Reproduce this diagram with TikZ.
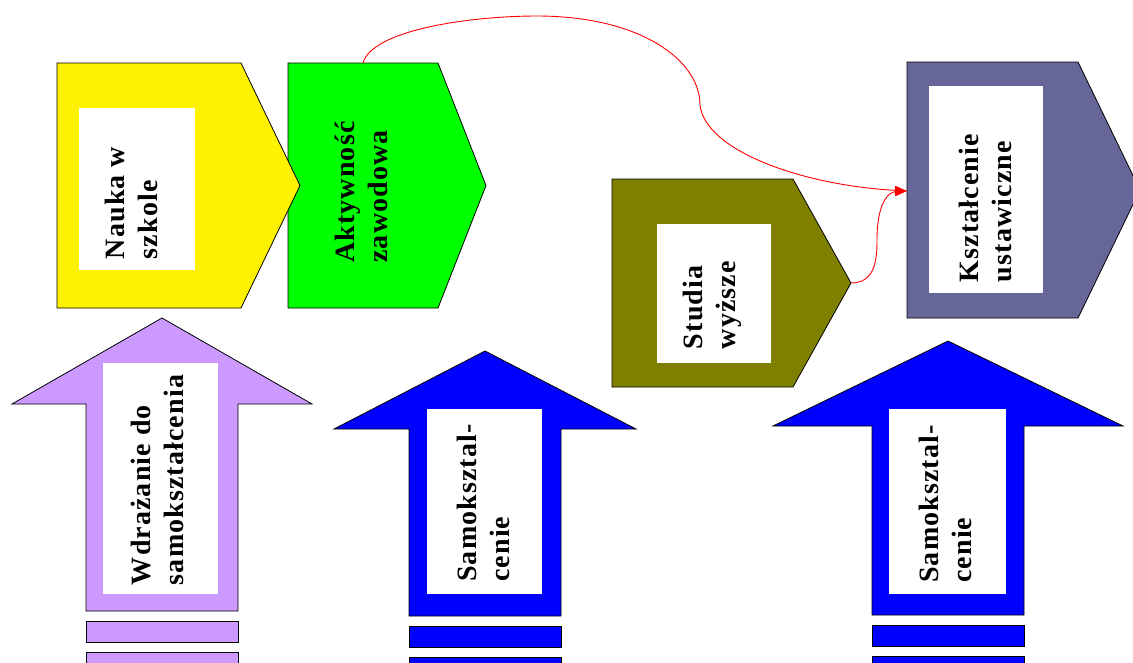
\documentclass[tikz,border=0pt]{standalone}
\usepackage{fontspec}
\setmainfont{Liberation Serif}[LetterSpace=4]
\usetikzlibrary{arrows.meta}

\definecolor{lilac}{HTML}{CC99FF}
\definecolor{slate}{HTML}{666699}
\definecolor{olivebox}{HTML}{808000}

\tikzset{
  shapeline/.style={draw=black, line width=0.8pt},
  boxtext/.style={rotate=90, align=left, inner sep=0pt, font=\fontsize{28}{33}\selectfont\bfseries},
  link/.style={draw=red, line width=0.9pt, -{Triangle[length=12pt,width=9pt]}}
}

\begin{document}
\begin{tikzpicture}[x=1pt,y=-1pt]
			\useasboundingbox (0,0) rectangle (1133,662);
			\clip (0,0) rectangle (1133,662);

			% pentagons, green first so the yellow tip lies on top
			\foreach \xl/\yt/\xr/\xt/\yb/\col in {288/63/438/486/308/green, 57/63/241/300/308/yellow, 612/179/793/851/387/olivebox, 907/62/1078/1140/318/slate}
			{
				\pgfmathsetmacro\ym{(\yt+\yb)/2}
				\draw[shapeline, fill=\col] (\xl,\yt) -- (\xr,\yt) -- (\xt,\ym) -- (\xr,\yb) -- (\xl,\yb) -- cycle;
			}

			% up arrows with their stripes
			\foreach \cx/\ty/\hy/\hw/\by/\col in {162/318/404/150/611/lilac, 485/351/429/151/616/blue, 948/341/426/175/615/blue}
			{
				\draw[shapeline, fill=\col] (\cx,\ty) -- (\cx+\hw,\hy) -- (\cx+76,\hy) -- (\cx+76,\by) -- (\cx-76,\by) -- (\cx-76,\hy) -- (\cx-\hw,\hy) -- cycle;
				\draw[shapeline, fill=\col] (\cx-76,\by+10) rectangle (\cx+76,\by+31);
				\draw[shapeline, fill=\col] (\cx-76,\by+41) rectangle (\cx+76,\by+75);
			}

			% white panels
			\foreach \xa/\ya/\xb/\yb in {79/108/195/270, 657/224/771/363, 929/86/1043/293, 103/363/218/594, 427/409/542/594, 889/409/1006/594}
			\fill[white] (\xa,\ya) rectangle (\xb,\yb);

			\node[boxtext] (nauka) at (131,203) {Nauka w\\szkole};
			\node[boxtext] (aktyw) at (361,192) {Aktywność\\zawodowa};
			\node[boxtext] (studia) at (712,305) {Studia\\wyższe};
			\node[boxtext] (kszt) at (985,208) {Kształcenie\\ustawiczne};
			\node[boxtext] (wdraz) at (157,480) {Wdrażanie do\\samokształcenia};
			\node[boxtext] (samoA) at (483,503) {Samoksztal-\\cenie};
			\node[boxtext] (samoB) at (945,504) {Samoksztal-\\cenie};

			\coordinate (aktTop) at (363,63);
			\coordinate (studTip) at (851,283);
			\coordinate (ksztIn) at (907,191);

			\draw[link] (aktTop) .. controls (372,30) and (470,16) .. (537,16) .. controls (640,16) and (700,60) .. (700,105) .. controls (705,150) and (800,185) .. (ksztIn);
			\draw[link] (studTip) .. controls (875,283) and (877,260) .. (877,240) .. controls (877,200) and (890,192) .. (ksztIn);
		\end{tikzpicture}
\end{document}
